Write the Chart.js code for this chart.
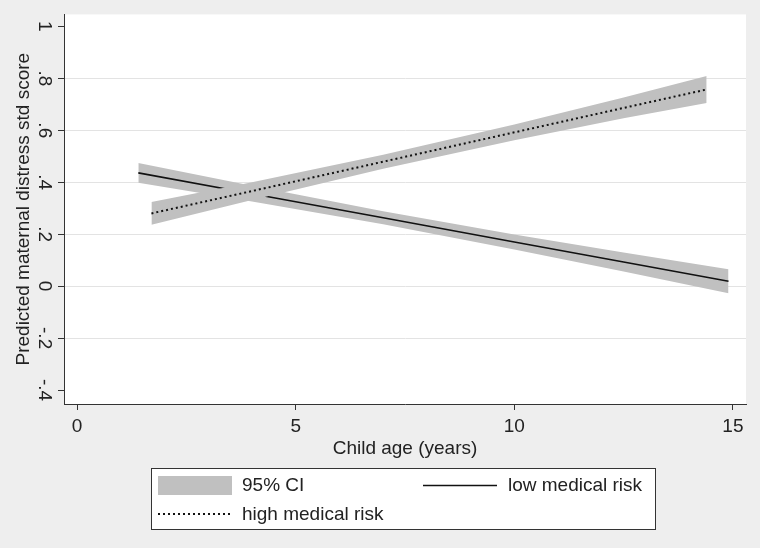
<!DOCTYPE html>
<html>
<head>
<meta charset="utf-8">
<script src="https://cdn.jsdelivr.net/npm/chart.js@4/dist/chart.umd.min.js"></script>
<style>
  html, body { margin: 0; padding: 0; background: #eeeeee; }
  #wrap { width: 760px; height: 548px; position: relative; }
</style>
</head>
<body>
<div id="wrap"><canvas id="c" width="760" height="548"></canvas></div>
<script>
// ---- data ----
const lowAge   = [1.4, 4, 7, 10, 12.5, 14.9];
const lowFit   = [0.436, 0.356, 0.263, 0.170, 0.093, 0.019];
const lowUpper = [0.474, 0.386, 0.288, 0.199, 0.130, 0.065];
const lowLower = [0.398, 0.326, 0.238, 0.141, 0.056, -0.027];

const highAge   = [1.7, 4, 7, 10, 12.5, 14.4];
const highFit   = [0.280, 0.366, 0.479, 0.592, 0.686, 0.757];
const highUpper = [0.324, 0.400, 0.506, 0.622, 0.726, 0.809];
const highLower = [0.236, 0.332, 0.452, 0.562, 0.646, 0.705];

const xTicks = [0, 5, 10, 15];
const yTicks = [-0.4, -0.2, 0, 0.2, 0.4, 0.6, 0.8, 1];

const seriesNames = ['95% CI', 'low medical risk', 'high medical risk'];
const xTitle = 'Child age (years)';
const yTitle = 'Predicted maternal distress std score';

// ---- helpers ----
const pts = (xs, ys) => xs.map((x, i) => ({x: x, y: ys[i]}));
const fmtY = v => {
  if (Math.abs(v) < 1e-9) return '0';
  if (Math.abs(v - 1) < 1e-9) return '1';
  const s = Math.abs(v).toFixed(1).replace(/^0/, '');
  return (v < 0 ? '-' : '') + s;
};

const FONT = "'Liberation Sans', Arial, sans-serif";
const TXT = '#222222';
const BAND = '#c0c0c0';
const LINE = '#111111';

const legendPlugin = {
  id: 'stataLegend',
  afterDraw(chart) {
    const ctx = chart.ctx;
    ctx.save();
    ctx.fillStyle = '#ffffff';
    ctx.fillRect(151, 468, 504, 61);
    ctx.strokeStyle = '#333333';
    ctx.lineWidth = 1;
    ctx.strokeRect(151.5, 468.5, 504, 61);
    ctx.fillStyle = BAND;
    ctx.fillRect(158, 476, 74, 19);
    ctx.strokeStyle = LINE;
    ctx.lineWidth = 1.6;
    ctx.beginPath(); ctx.moveTo(423, 485.5); ctx.lineTo(497, 485.5); ctx.stroke();
    ctx.lineWidth = 2;
    ctx.setLineDash([2, 3]);
    ctx.beginPath(); ctx.moveTo(158, 514); ctx.lineTo(232, 514); ctx.stroke();
    ctx.setLineDash([]);
    ctx.fillStyle = TXT;
    ctx.font = '19px ' + FONT;
    ctx.textBaseline = 'middle';
    ctx.textAlign = 'left';
    ctx.fillText(seriesNames[0], 242, 486);
    ctx.fillText(seriesNames[1], 508, 486);
    ctx.fillText(seriesNames[2], 242, 515);
    ctx.restore();
  }
};

const plotBg = {
  id: 'plotBg',
  beforeDraw(chart) {
    const {ctx, chartArea: a} = chart;
    ctx.save();
    ctx.fillStyle = '#eeeeee';
    ctx.fillRect(0, 0, chart.width, chart.height);
    ctx.fillStyle = '#ffffff';
    ctx.fillRect(a.left, a.top, a.right - a.left, a.bottom - a.top);
    ctx.restore();
  }
};

new Chart(document.getElementById('c'), {
  type: 'line',
  data: {
    datasets: [
      { label: seriesNames[2], data: pts(highAge, highFit), borderColor: LINE, borderWidth: 2,
        borderDash: [2, 3], pointRadius: 0, fill: false, order: 0 },
      { label: 'high upper', data: pts(highAge, highUpper), borderWidth: 0, borderColor: 'rgba(0,0,0,0)',
        pointRadius: 0, fill: false, order: 1 },
      { label: 'high lower', data: pts(highAge, highLower), borderWidth: 0, borderColor: 'rgba(0,0,0,0)',
        pointRadius: 0, fill: 1, backgroundColor: BAND, order: 1 },
      { label: seriesNames[1], data: pts(lowAge, lowFit), borderColor: LINE, borderWidth: 1.6,
        pointRadius: 0, fill: false, order: 2 },
      { label: 'low upper', data: pts(lowAge, lowUpper), borderWidth: 0, borderColor: 'rgba(0,0,0,0)',
        pointRadius: 0, fill: false, order: 3 },
      { label: 'low lower', data: pts(lowAge, lowLower), borderWidth: 0, borderColor: 'rgba(0,0,0,0)',
        pointRadius: 0, fill: 4, backgroundColor: BAND, order: 3 }
    ]
  },
  options: {
    responsive: false,
    animation: false,
    layout: { padding: { top: 12, right: 14, bottom: 88, left: 0 } },
    plugins: { legend: { display: false }, tooltip: { enabled: false } },
    elements: { line: { tension: 0 } },
    scales: {
      x: {
        type: 'linear', min: -0.3, max: 15.3,
        afterBuildTicks: s => { s.ticks = xTicks.map(v => ({value: v})); },
        afterFit: s => { s.height = 56; },
        border: { display: true, color: '#333333', width: 1 },
        grid: { drawOnChartArea: false, drawTicks: true, tickLength: 6, tickColor: '#333333' },
        ticks: { color: TXT, font: { family: FONT, size: 19 }, padding: 5, maxRotation: 0 },
        title: { display: true, text: xTitle, color: TXT, font: { family: FONT, size: 19 },
                 padding: { top: 0, bottom: 0 } }
      },
      y: {
        type: 'linear', min: -0.4536, max: 1.046,
        afterBuildTicks: s => { s.ticks = yTicks.map(v => ({value: v})); },
        afterFit: s => { s.width = 64; },
        border: { display: true, color: '#333333', width: 1 },
        grid: {
          drawTicks: true, tickLength: 6, tickColor: '#333333',
          color: c => (c.tick && (Math.abs(c.tick.value - 1) < 1e-9 || Math.abs(c.tick.value + 0.4) < 1e-9))
                       ? 'rgba(0,0,0,0)' : '#e3e3e3',
          lineWidth: 1
        },
        ticks: { color: TXT, font: { family: FONT, size: 19 }, padding: 3,
                 minRotation: -90, maxRotation: -90, crossAlign: 'center',
                 callback: v => fmtY(v) },
        title: { display: true, text: yTitle, color: TXT, font: { family: FONT, size: 19 },
                 padding: { top: 12, bottom: 0 } }
      }
    }
  },
  plugins: [plotBg, legendPlugin]
});
</script>
</body>
</html>
